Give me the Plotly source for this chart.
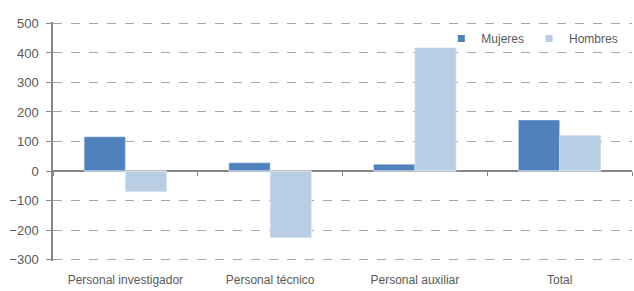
import plotly.graph_objects as go

categories = ["Personal investigador", "Personal técnico", "Personal auxiliar", "Total"]
mujeres = [116, 28, 23, 173]
hombres = [-70, -226, 418, 121]
y_ticks = [-300, -200, -100, 0, 100, 200, 300, 400, 500]

FONT = "Liberation Sans, Arial, sans-serif"
TXT = "#595959"
C_M = "#4F81BD"
C_H = "#B9CDE5"

fig = go.Figure()
fig.add_trace(go.Bar(name="Mujeres", x=categories, y=mujeres, marker_color=C_M, showlegend=False))
fig.add_trace(go.Bar(name="Hombres", x=categories, y=hombres, marker_color=C_H, showlegend=False))
# legend-only entries with small square symbols
fig.add_trace(go.Scatter(name="Mujeres", x=[None], y=[None], mode="markers",
                         marker=dict(symbol="square", size=7, color=C_M)))
fig.add_trace(go.Scatter(name="Hombres", x=[None], y=[None], mode="markers",
                         marker=dict(symbol="square", size=7, color=C_H)))
# invisible helper trace for boundary ticks along the zero line
fig.add_trace(go.Bar(x=categories, y=[0]*4, xaxis="x2", showlegend=False,
                     hoverinfo="skip", marker_color="rgba(0,0,0,0)"))

fig.update_layout(
    width=634, height=291,
    margin=dict(l=53, r=2, t=21.5, b=29.5),
    paper_bgcolor="white", plot_bgcolor="white",
    barmode="group", bargap=0.43, bargroupgap=0,
    font=dict(family=FONT, size=12, color=TXT),
    legend=dict(orientation="h", x=0.985, y=0.931, xanchor="right", yanchor="middle",
                font=dict(size=12, color=TXT), bgcolor="rgba(0,0,0,0)",
                itemwidth=30, tracegroupgap=0),
    xaxis=dict(showline=False, showgrid=False, ticks="", zeroline=False,
               ticklabelstandoff=10,
               tickfont=dict(size=12, color=TXT)),
    xaxis2=dict(overlaying="x", anchor="free", position=305/810, matches="x",
                showline=False, showgrid=False, zeroline=False,
                ticks="outside", tickson="boundaries", ticklen=4,
                tickcolor="#868686", showticklabels=False),
    yaxis=dict(range=[-305, 505], tickvals=y_ticks, showgrid=True,
               gridcolor="#A6A6A6", griddash="dash", gridwidth=1,
               zeroline=True, zerolinecolor="#868686", zerolinewidth=1.5,
               showline=True, linecolor="#868686", linewidth=1.5,
               ticks="outside", ticklen=5, tickcolor="#868686",
               ticklabelstandoff=5,
               tickfont=dict(size=13, color=TXT)),
)

fig.write_html("out.html", config={"displayModeBar": False},
               post_script="document.body.style.margin='0';")
